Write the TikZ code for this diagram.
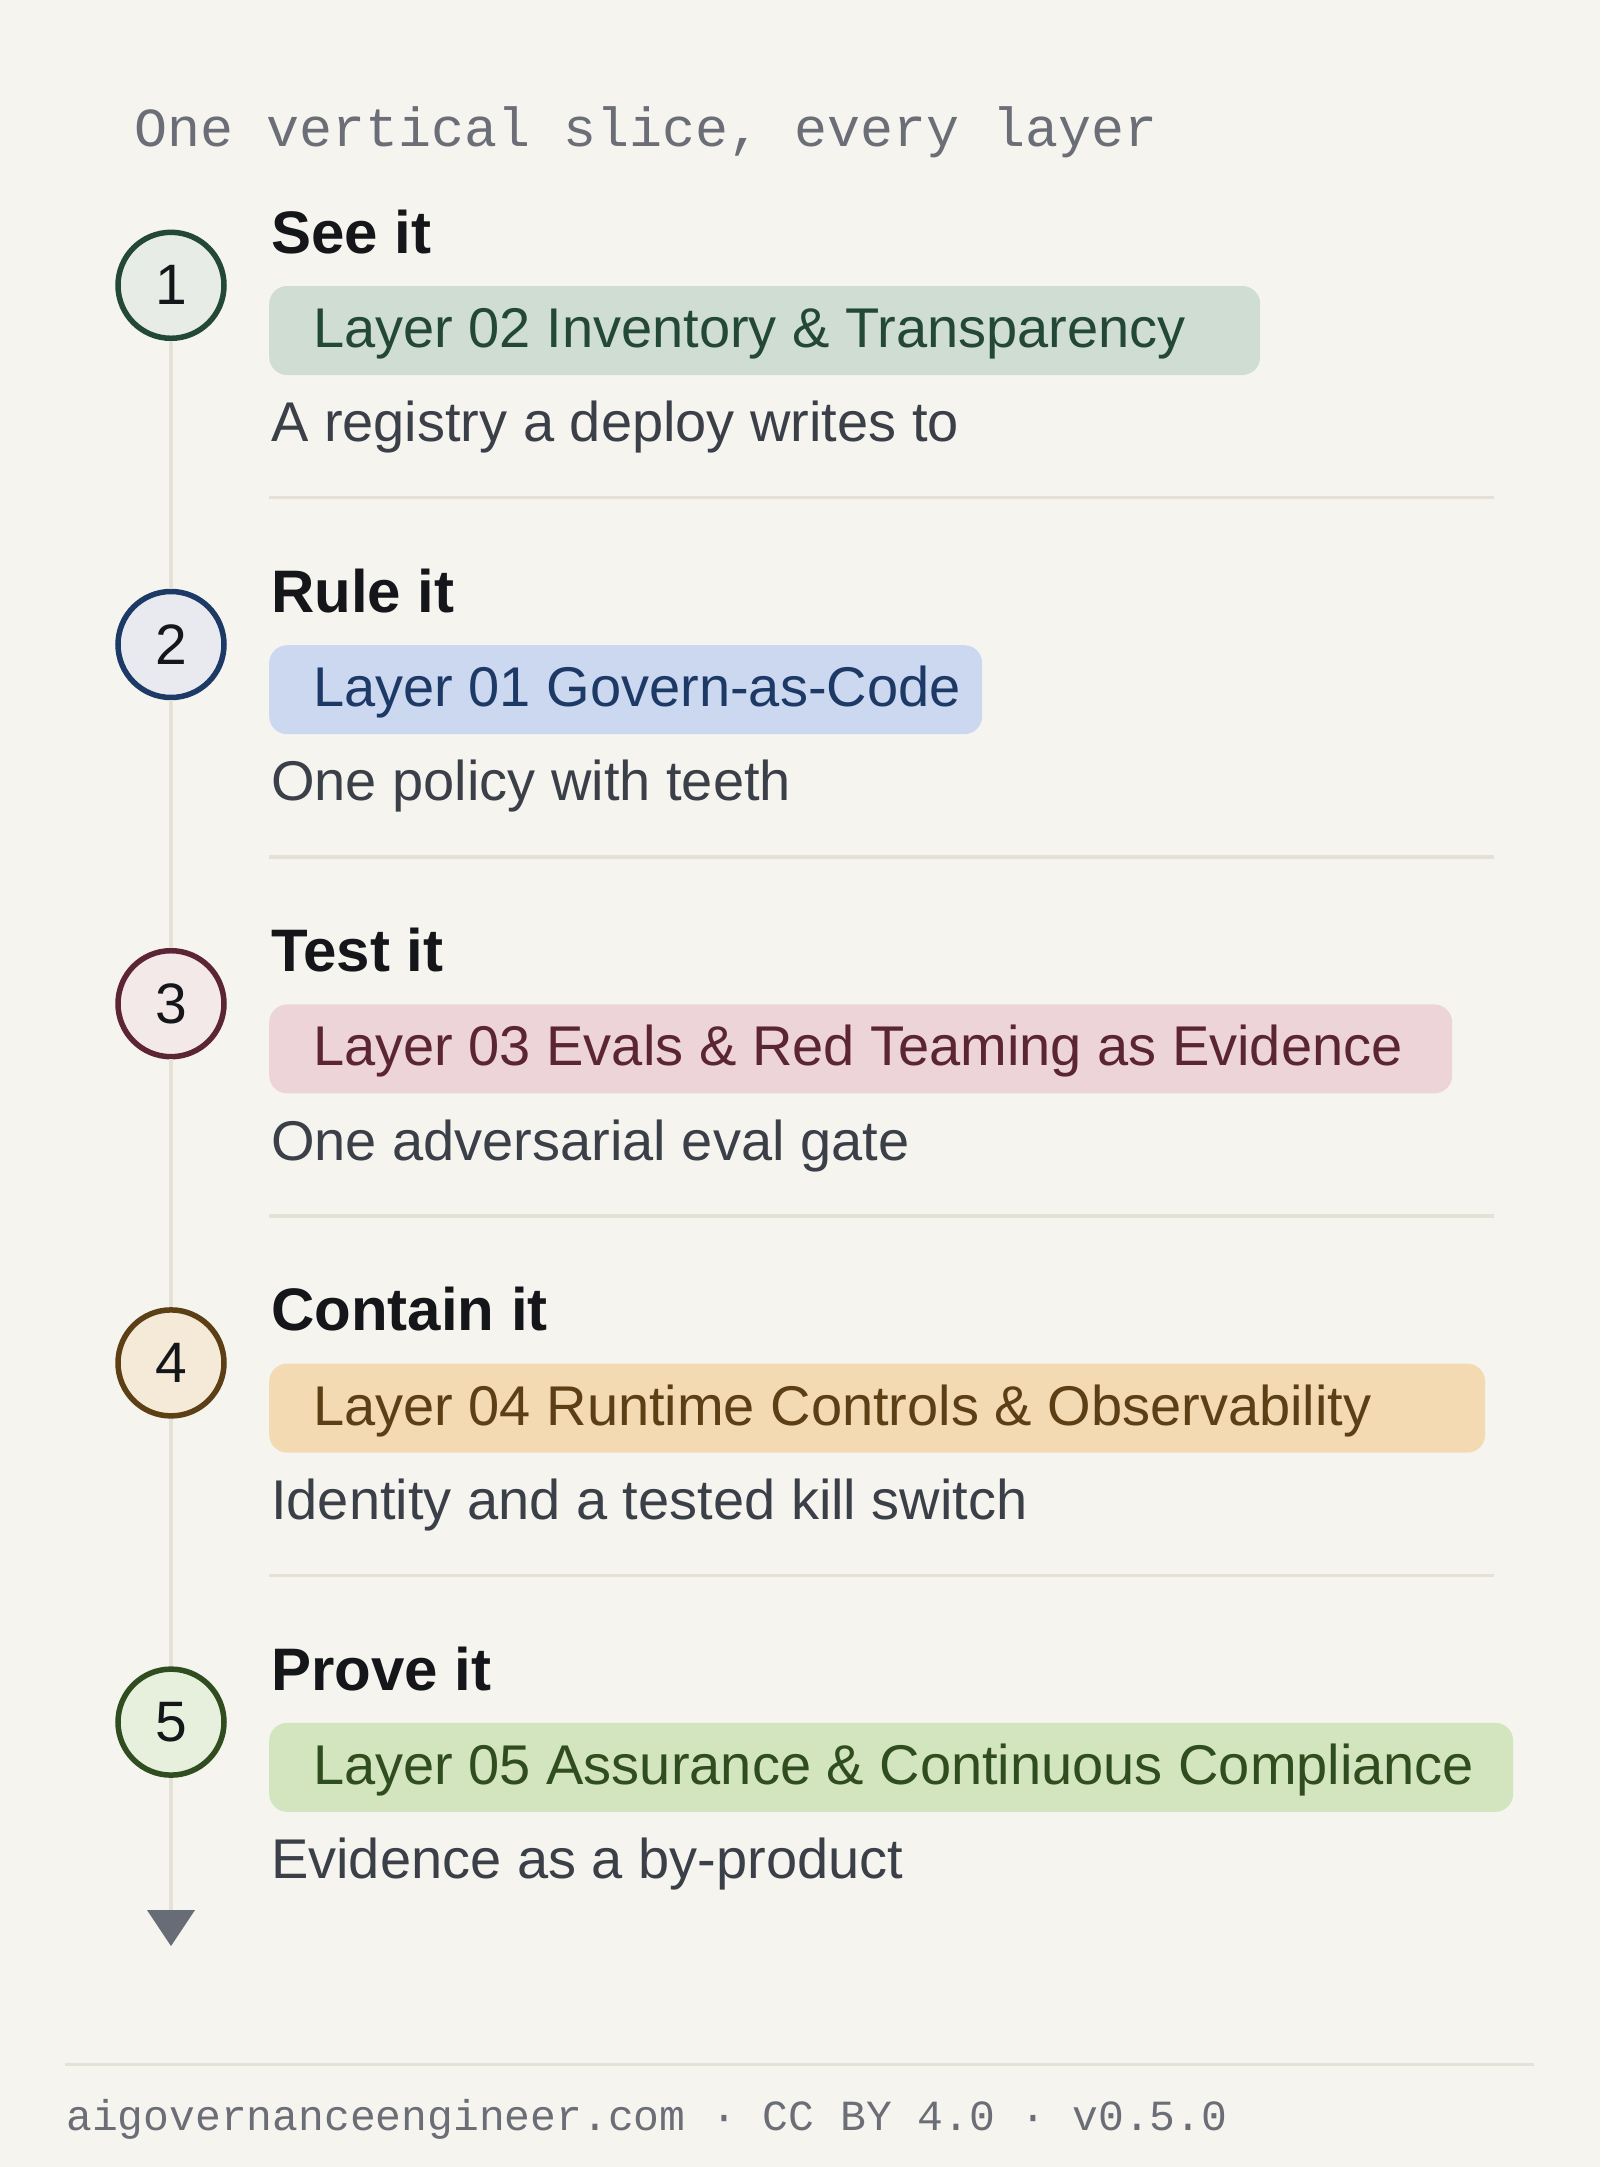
\documentclass[tikz,border=0pt]{standalone}
\usepackage{fontspec}
\setmainfont{Liberation Sans}
\setmonofont{Liberation Mono}
\usetikzlibrary{arrows.meta}

\definecolor{paper}{HTML}{F5F4EF}
\definecolor{ink}{HTML}{15161A}
\definecolor{descgray}{HTML}{3A3F48}
\definecolor{titlegray}{HTML}{6B6E76}
\definecolor{railgray}{HTML}{E5E1D7}
\definecolor{arrowgray}{HTML}{686C76}
\definecolor{sonline}{HTML}{234838}
\definecolor{sonfill}{HTML}{E8ECE6}
\definecolor{sonpill}{HTML}{CFDDD3}
\definecolor{stwline}{HTML}{1D3A66}
\definecolor{stwfill}{HTML}{E8EAEF}
\definecolor{stwpill}{HTML}{CBD8EF}
\definecolor{sthline}{HTML}{5B2535}
\definecolor{sthfill}{HTML}{F3E9E9}
\definecolor{sthpill}{HTML}{EDD4D9}
\definecolor{sfoline}{HTML}{5C3F14}
\definecolor{sfofill}{HTML}{F5EAD8}
\definecolor{sfopill}{HTML}{F3DAB3}
\definecolor{sfiline}{HTML}{2F4D1F}
\definecolor{sfifill}{HTML}{E7EFDD}
\definecolor{sfipill}{HTML}{D3E5BE}

\begin{document}
\begin{tikzpicture}[x=1pt,y=-1pt,
  num/.style={circle,minimum size=106pt,inner sep=0pt,line width=5.5pt,font=\fontsize{57}{60}\selectfont,text=ink},
  head/.style={anchor=base west,inner sep=0pt,font=\fontsize{60}{64}\selectfont\bfseries,text=ink},
  pill/.style={anchor=west,rounded corners=18pt,inner xsep=44pt,inner ysep=0pt,text height=41pt,text depth=7pt,minimum height=89pt,font=\fontsize{56}{60}\selectfont},
  desc/.style={anchor=base west,inner sep=0pt,font=\fontsize{56}{60}\selectfont,text=descgray},
  mono/.style={anchor=base west,inner sep=0pt,text=titlegray},
  spine/.style={draw=railgray,line width=4pt},
  rule/.style={draw=railgray,line width=3.5pt}]
\useasboundingbox (0,0) rectangle (1600,2167);
\fill[paper] (0,0) rectangle (1600,2167);

\node[mono,font=\ttfamily\fontsize{55}{60}\selectfont] (title) at (134,147) {One vertical slice, every layer};

% step 1
\node[num,draw=sonline,fill=sonfill] (c1) at (171,285.3) {1};
\node[head] (h1) at (271,253.3) {See it};
\node[pill,fill=sonpill,text=sonline] (p1) at (269,330.5) {\makebox[903pt][l]{Layer 02 Inventory \& Transparency}};
\node[desc] (d1) at (271,441.7) {A registry a deploy writes to};
\draw[rule] (269,497.7) -- (1494,497.7);

% step 2
\node[num,draw=stwline,fill=stwfill] (c2) at (171,644.5) {2};
\node[head] (h2) at (271,612.5) {Rule it};
\node[pill,fill=stwpill,text=stwline] (p2) at (269,689.7) {\makebox[625pt][l]{Layer 01 Govern-as-Code}};
\node[desc] (d2) at (271,800.9) {One policy with teeth};
\draw[rule] (269,856.9) -- (1494,856.9);

% step 3
\node[num,draw=sthline,fill=sthfill] (c3) at (171,1003.7) {3};
\node[head] (h3) at (271,971.7) {Test it};
\node[pill,fill=sthpill,text=sthline] (p3) at (269,1048.9) {\makebox[1095pt][l]{Layer 03 Evals \& Red Teaming as Evidence}};
\node[desc] (d3) at (271,1160.1) {One adversarial eval gate};
\draw[rule] (269,1216.1) -- (1494,1216.1);

% step 4
\node[num,draw=sfoline,fill=sfofill] (c4) at (171,1362.9) {4};
\node[head] (h4) at (271,1330.9) {Contain it};
\node[pill,fill=sfopill,text=sfoline] (p4) at (269,1408.1) {\makebox[1128pt][l]{Layer 04 Runtime Controls \& Observability}};
\node[desc] (d4) at (271,1519.3) {Identity and a tested kill switch};
\draw[rule] (269,1575.3) -- (1494,1575.3);

% step 5
\node[num,draw=sfiline,fill=sfifill] (c5) at (171,1722.1) {5};
\node[head] (h5) at (271,1690.1) {Prove it};
\node[pill,fill=sfipill,text=sfiline] (p5) at (269,1767.3) {\makebox[1156pt][l]{Layer 05 Assurance \& Continuous Compliance}};
\node[desc] (d5) at (271,1878.5) {Evidence as a by-product};

% spine
\coordinate (tip) at (171,1946);
\draw[spine] (c1) -- (c2);
\draw[spine] (c2) -- (c3);
\draw[spine] (c3) -- (c4);
\draw[spine] (c4) -- (c5);
\draw[spine,-{Triangle[width=48pt,length=36pt,line width=0pt,color=arrowgray]}] (c5) -- (tip);

% footer
\draw[rule] (65,2064.5) -- (1534,2064.5);
\node[mono,font=\ttfamily\fontsize{43}{50}\selectfont] (foot) at (66,2130) {aigovernanceengineer.com · CC BY 4.0 · v0.5.0};
\end{tikzpicture}
\end{document}
